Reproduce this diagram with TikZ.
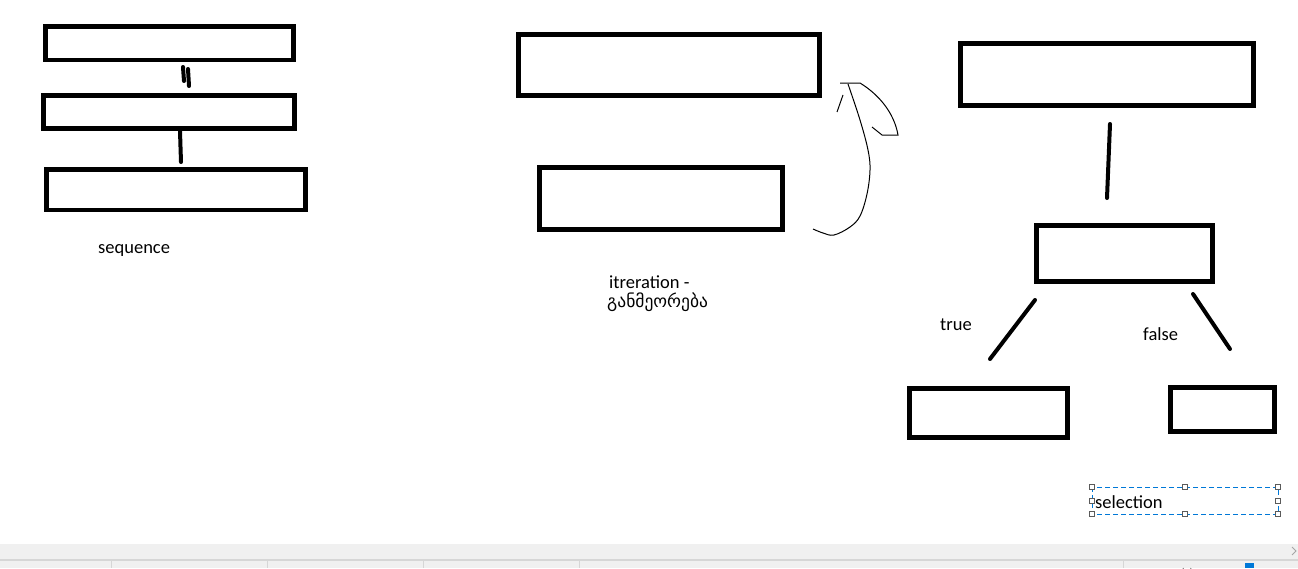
\documentclass[tikz,border=0pt]{standalone}
\usepackage{fontspec}
\setmainfont{Carlito}
\newfontfamily\geofont{DejaVu Sans}
\definecolor{selblue}{HTML}{0078D7}
\definecolor{barfill}{HTML}{F0F0F0}
\definecolor{barline}{HTML}{D6D6D6}
\definecolor{grip}{HTML}{5A5A5A}

\begin{document}
\begin{tikzpicture}[x=1pt, y=-1pt,
    blk/.style={draw, line width=4.6pt, inner sep=0pt},
    link/.style={line width=4pt, line cap=round},
    lbl/.style={anchor=base west, inner sep=0pt, font=\fontsize{18.5}{22}\selectfont},
    handle/.style={draw=grip, fill=white, line width=0.8pt, minimum size=5pt, inner sep=0pt}]
    \useasboundingbox (0,0) rectangle (1298,568);
    \fill[white] (0,0) rectangle (1298,568);

    % sequence
    \node[blk, minimum width=248pt, minimum height=33.5pt] (s1) at (169.5,43.3) {};
    \node[blk, minimum width=251pt, minimum height=33pt] (s2) at (168.8,112) {};
    \node[blk, minimum width=259pt, minimum height=40.5pt] (s3) at (175.8,189.8) {};
    \coordinate (s1a) at (183,67);  \coordinate (s2a) at (184,81);
    \coordinate (s1b) at (188,69);  \coordinate (s2b) at (189,86);
    \coordinate (s2c) at (180,131); \coordinate (s3c) at (181,162);
    \draw[link] (s1a) -- (s2a);
    \draw[link] (s1b) -- (s2b);
    \draw[link] (s2c) -- (180.5,147) -- (s3c);
    \node[lbl] (seq) at (98,253) {sequence};

    % iteration
    \node[blk, minimum width=301.5pt, minimum height=61.5pt] (i1) at (669,65) {};
    \node[blk, minimum width=243.5pt, minimum height=62.5pt] (i2) at (661,198.5) {};
    \coordinate (loopend) at (813,229);
    \coordinate (looptip) at (848,84);
    \draw[line width=1pt] plot[smooth, tension=0.6] coordinates
        {(loopend) (823,233) (834,235) (850,227) (860,216) (867,194) (870,170) (868,150) (860,120) (looptip)};
    \draw[line width=1pt] (840,83) -- (860,83) .. controls (878,94) and (894,112) .. (898,135)
        -- (882,135) -- (872,127);
    \draw[line width=1pt] (843,95) -- (837,112);
    \node[lbl] (itr) at (609,288) {itreration -};
    \node[lbl, font=\geofont\fontsize{17.5}{20}\selectfont] (itrgeo) at (607,307) {განმეორება};

    % selection
    \node[blk, minimum width=293.5pt, minimum height=62.5pt] (c1) at (1107,74.5) {};
    \node[blk, minimum width=176.5pt, minimum height=56.5pt] (c2) at (1124.5,253.5) {};
    \node[blk, minimum width=158.5pt, minimum height=49.5pt] (c3) at (988.5,413) {};
    \node[blk, minimum width=104.5pt, minimum height=44.5pt] (c4) at (1222.5,409.5) {};
    \coordinate (c1s) at (1110,124);  \coordinate (c2n) at (1107,198);
    \coordinate (c2l) at (1035,300);  \coordinate (c3n) at (990,359);
    \coordinate (c2r) at (1193,294);  \coordinate (c4n) at (1230,349);
    \draw[link] (c1s) -- (c2n);
    \draw[link] (c2l) -- (c3n);
    \draw[link] (c2r) -- (c4n);
    \node[lbl] (yes) at (940,330) {true};
    \node[lbl] (no) at (1143,340) {false};

    % selected text box
    \draw[selblue, dash pattern=on 5pt off 3pt, line width=0.9pt] (1092,487) rectangle (1278,514);
    \node[lbl] (sel) at (1095,508) {selection};
    \foreach \hx/\hy in {1092/487, 1185/487, 1278/487, 1092/501, 1278/501, 1092/514, 1185/514, 1278/514}
        \node[handle] at (\hx,\hy) {};

    % status bar
    \fill[barfill] (0,544) rectangle (1298,568);
    \draw[barline, line width=1.5pt] (0,560) -- (1298,560);
    \foreach \sx in {111, 267, 423, 579, 1123}
        \draw[barline, line width=1pt] (\sx,561) -- (\sx,568);
    \draw[gray!70, line width=1pt] (1292,547) -- (1296,551) -- (1292,555);
    \draw[gray, line width=1pt] (1183,568) arc (180:0:4);
    \fill[selblue] (1245,563) rectangle (1254,568);
\end{tikzpicture}
\end{document}
